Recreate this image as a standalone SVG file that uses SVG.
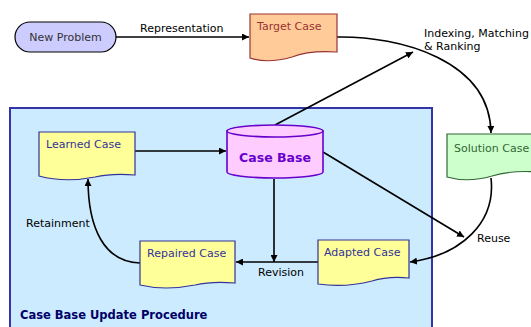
<svg xmlns="http://www.w3.org/2000/svg" width="531" height="327" viewBox="0 0 531 327">
<defs>
<marker id="ah" viewBox="0 0 10 10" refX="10" refY="5" markerWidth="7" markerHeight="7" markerUnits="userSpaceOnUse" orient="auto">
<path d="M0,0 L10,5 L0,10 Z" fill="#000"/>
</marker>
<style>
text{font-family:"DejaVu Sans",Verdana,sans-serif;font-size:11px;}
.lbl{fill:#000;}
.doc{stroke-width:1.2;}
.yellow{fill:#FFFF99;stroke:#333399;}
.ytext{fill:#333399;}
.conn{fill:none;stroke:#000;stroke-width:1.6;marker-end:url(#ah);}
</style>
</defs>
<rect width="531" height="327" fill="#fff"/>
<g id="update-region">
<rect x="10" y="108" width="422" height="230" fill="#CCEBFF" stroke="#3333AA" stroke-width="2"/>
<text x="20" y="319" style="font-weight:bold;font-size:11.5px" fill="#000066">Case Base Update Procedure</text>
</g>
<g id="connectors">
<line class="conn" x1="116" y1="37" x2="249" y2="37"/>
<path class="conn" d="M337,37 C400,36 490,60 491,133"/>
<line class="conn" x1="275" y1="125" x2="413" y2="52"/>
<line class="conn" x1="323" y1="152" x2="464" y2="237"/>
<path class="conn" d="M491,178 C496,222 462,255 410,262"/>
<line class="conn" x1="274" y1="179" x2="274" y2="262"/>
<line class="conn" x1="318" y1="262" x2="236" y2="262"/>
<path class="conn" d="M140,263 C104,262 88,228 88,179"/>
<line class="conn" x1="135" y1="151" x2="226" y2="151"/>
<text class="lbl" x="140" y="32">Representation</text>
<text class="lbl" x="424" y="37">Indexing, Matching</text>
<text class="lbl" x="424" y="50">&amp; Ranking</text>
<text class="lbl" x="477" y="242">Reuse</text>
<text class="lbl" x="258" y="276">Revision</text>
<text class="lbl" x="26" y="227">Retainment</text>
</g>
<g id="new-problem">
<rect x="15" y="22" width="101" height="30" rx="15" ry="15" fill="#CCCCFF" stroke="#000" stroke-width="1.2"/>
<text x="65.5" y="41" text-anchor="middle" fill="#333333">New Problem</text>
</g>
<g id="target-case">
<path class="doc" d="M250,14 H337 V52 Q310,50 292,57 Q268,64 250,58 Z" fill="#FFCC99" stroke="#993333"/>
<text x="257" y="30" fill="#993333">Target Case</text>
</g>
<g id="solution-case">
<path class="doc" d="M447,134 H540 V172 Q510,170 492,176 Q468,183 447,177 Z" fill="#CCFFCC" stroke="#336633"/>
<text x="454" y="152" fill="#336633">Solution Case</text>
</g>
<g id="learned-case">
<path class="doc yellow" d="M39,132 H135 V175 Q112,173 95,177 Q65,183 39,176 Z"/>
<text class="ytext" x="46" y="148">Learned Case</text>
</g>
<g id="case-base">
<path d="M227,131 V172 A48,6 0 0 0 323,172 V131 Z" fill="#FFCCFF" stroke="#6600CC" stroke-width="1.6"/>
<ellipse cx="275" cy="131" rx="48" ry="6" fill="#FFCCFF" stroke="#6600CC" stroke-width="1.6"/>
<text x="275" y="162" text-anchor="middle" style="font-weight:bold;font-size:12.5px" fill="#6600CC">Case Base</text>
</g>
<g id="repaired-case">
<path class="doc yellow" d="M140,241 H235 V283 Q212,281 195,285 Q165,291 140,285 Z"/>
<text class="ytext" x="147" y="257">Repaired Case</text>
</g>
<g id="adapted-case">
<path class="doc yellow" d="M318,240 H409 V278 Q388,276 372,281 Q345,288 318,284 Z"/>
<text class="ytext" x="324" y="256">Adapted Case</text>
</g>
</svg>
